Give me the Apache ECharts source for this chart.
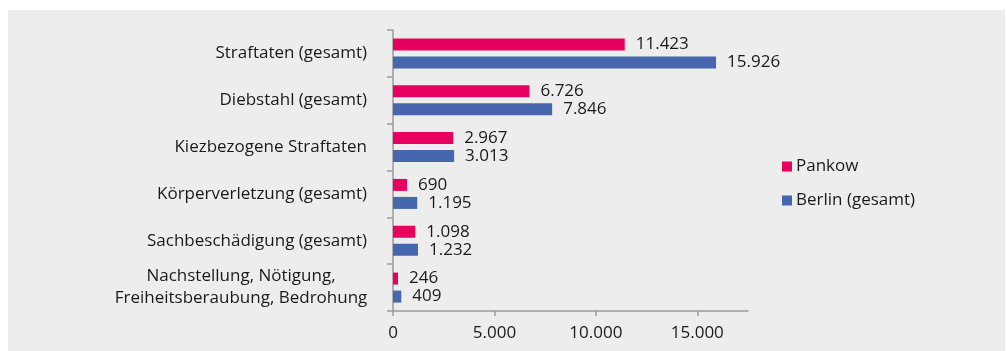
<!DOCTYPE html>
<html>
<head>
<meta charset="utf-8">
<script src="https://cdn.jsdelivr.net/npm/echarts@6/dist/echarts.min.js"></script>
<style>
  html, body { margin: 0; padding: 0; background: #ffffff; }
  #chart { width: 1006px; height: 351px; }
</style>
</head>
<body>
<div id="chart"></div>
<script>
// Straftaten je 100.000 Einwohner: Pankow im Vergleich zu Berlin (gesamt)
const categories = [
  'Straftaten (gesamt)',
  'Diebstahl (gesamt)',
  'Kiezbezogene Straftaten',
  'Körperverletzung (gesamt)',
  'Sachbeschädigung (gesamt)',
  'Nachstellung, Nötigung,\nFreiheitsberaubung, Bedrohung'
];
const seriesNames = ['Pankow', 'Berlin (gesamt)'];
const pankow = [11423, 6726, 2967, 690, 1098, 246];
const berlin = [15926, 7846, 3013, 1195, 1232, 409];
const xTicks = [0, 5000, 10000, 15000];

const FONT = '"Open Sans", "Noto Sans", sans-serif';
const TEXT = '#1a1a1a';
const AXIS = '#9a9a9a';

const fmt = v => String(v).replace(/\B(?=(\d{3})+(?!\d))/g, '.');

const chart = echarts.init(document.getElementById('chart'), null, { renderer: 'canvas' });

function barSeries(name, data, color) {
  return {
    name: name,
    type: 'bar',
    data: data,
    barWidth: 12,
    barGap: '50%',
    itemStyle: { color: color },
    label: {
      show: true,
      position: 'right',
      distance: 11,
      color: TEXT,
      fontFamily: FONT,
      fontSize: 17,
      formatter: p => fmt(p.value)
    }
  };
}

chart.setOption({
  animation: false,
  backgroundColor: '#ffffff',
  graphic: [{
    type: 'rect',
    z: -10,
    shape: { x: 8, y: 10, width: 997, height: 341 },
    style: { fill: '#ededed' }
  }],
  textStyle: { fontFamily: FONT, color: TEXT },
  grid: { left: 393, top: 30, right: 258, bottom: 40, containLabel: false },
  legend: {
    orient: 'vertical',
    left: 777,
    top: 153,
    itemWidth: 10,
    itemHeight: 10,
    itemGap: 17,
    icon: 'rect',
    data: seriesNames,
    textStyle: { fontFamily: FONT, fontSize: 17, color: TEXT, padding: [0, 0, 0, -1] }
  },
  xAxis: {
    type: 'value',
    min: 0,
    max: 17500,
    interval: 5000,
    splitLine: { show: false },
    axisLine: { show: true, lineStyle: { color: AXIS, width: 1.5 } },
    axisTick: { show: true, length: 5, lineStyle: { color: AXIS, width: 1.5 }, customValues: xTicks },
    axisLabel: {
      color: TEXT,
      fontFamily: FONT,
      fontSize: 17,
      margin: 14,
      customValues: xTicks,
      formatter: v => fmt(v)
    }
  },
  yAxis: {
    type: 'category',
    inverse: true,
    data: categories,
    axisLine: { show: true, lineStyle: { color: AXIS, width: 1.5 } },
    axisTick: { show: true, length: 6, lineStyle: { color: AXIS, width: 1.5 } },
    axisLabel: {
      color: TEXT,
      fontFamily: FONT,
      fontSize: 17,
      margin: 26,
      lineHeight: 22,
      formatter: function (v) {
        if (v.indexOf('\n') >= 0) {
          return v.split('\n').map(s => '{c|' + s + '}').join('\n');
        }
        return v;
      },
      rich: {
        c: { width: 252, align: 'center', fontSize: 17, lineHeight: 22, fontFamily: FONT, color: TEXT }
      }
    }
  },
  series: [
    barSeries(seriesNames[0], pankow, '#e8005e'),
    barSeries(seriesNames[1], berlin, '#4666ae')
  ]
});
</script>
</body>
</html>
